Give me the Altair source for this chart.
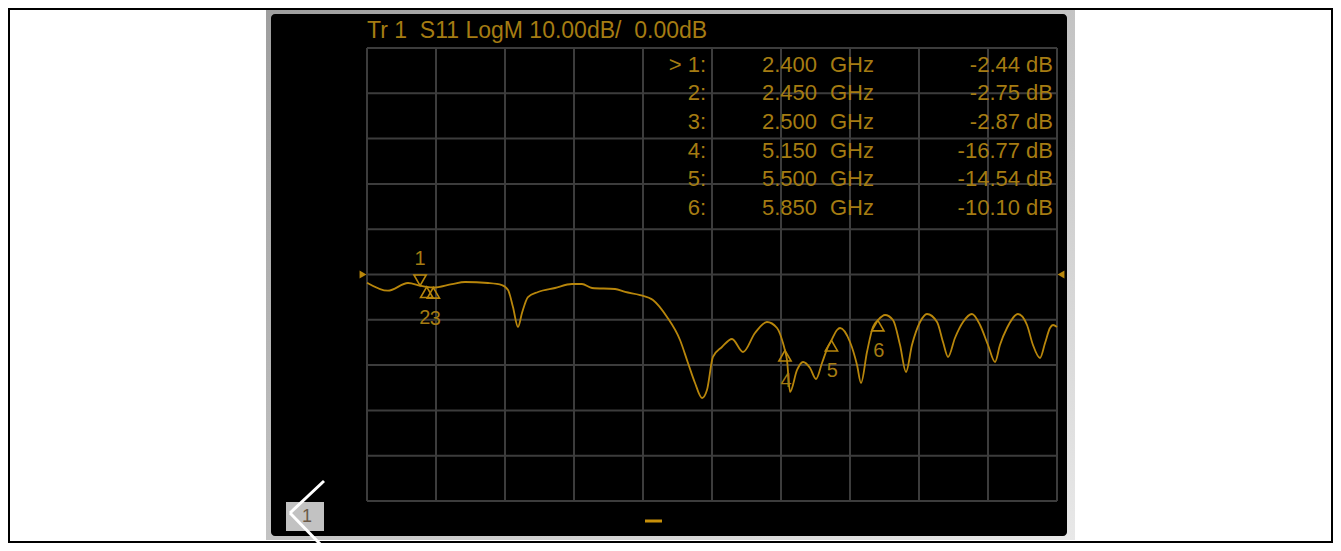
import altair as alt
import pandas as pd

# ---- trace data (S11, dB vs GHz) ----
freq_ghz = [2.000, 2.158, 2.309, 2.400, 2.450, 2.500, 2.641, 2.739, 2.912, 3.017,
            3.063, 3.100, 3.138, 3.168, 3.213, 3.289, 3.417, 3.545, 3.620, 3.696,
            3.869, 3.945, 4.058, 4.155, 4.261, 4.359, 4.419, 4.472, 4.525, 4.562,
            4.607, 4.675, 4.751, 4.834, 4.924, 5.014, 5.090, 5.135, 5.150, 5.165,
            5.188, 5.241, 5.286, 5.339, 5.384, 5.429, 5.474, 5.500, 5.542, 5.565,
            5.640, 5.693, 5.723, 5.768, 5.813, 5.850, 5.904, 5.964, 6.017, 6.062,
            6.107, 6.168, 6.220, 6.296, 6.341, 6.379, 6.431, 6.492, 6.559, 6.620,
            6.680, 6.733, 6.770, 6.823, 6.906, 6.974, 7.019, 7.072, 7.110, 7.147,
            7.170, 7.200]
s11_db = [-1.81, -3.58, -1.88, -2.44, -2.75, -2.87, -2.10, -1.66, -1.88, -2.32,
          -3.42, -7.18, -11.59, -8.50, -4.97, -3.86, -2.98, -2.10, -2.10, -2.98,
          -3.20, -3.86, -4.53, -5.63, -9.38, -14.46, -19.54, -23.95, -27.26, -25.50,
          -18.21, -16.00, -14.24, -17.11, -12.91, -10.49, -11.81, -15.12, -16.77, -18.87,
          -25.94, -21.08, -19.32, -20.64, -23.07, -19.54, -16.00, -14.54, -12.25, -11.81,
          -14.90, -19.98, -23.95, -17.11, -11.59, -10.10, -8.94, -10.05, -15.57, -21.52,
          -15.57, -10.49, -8.72, -10.49, -14.90, -18.21, -14.02, -10.49, -8.72, -11.15,
          -15.57, -19.32, -15.57, -11.81, -8.72, -11.15, -15.57, -18.43, -15.12, -11.81,
          -11.15, -11.59]

# ---- markers ----
marker_id = [1, 2, 3, 4, 5, 6]
marker_freq = [2.400, 2.450, 2.500, 5.150, 5.500, 5.850]
marker_db = [-2.44, -2.75, -2.87, -16.77, -14.54, -10.10]

# ---- grid ----
x_grid = [round(2.0 + 0.52 * i, 2) for i in range(11)]
y_grid = list(range(-50, 51, 10))
ref_level = [0.0]

title_text = "Tr 1\u00a0\u00a0S11 LogM 10.00dB/\u00a0\u00a00.00dB"

TRACE = "#b8860b"
TEXT = "#a57c12"
GRIDC = "#3c3c3c"
FONT = "Liberation Sans"

W, H = 690, 453
xs = alt.Scale(domain=[2.0, 7.2], nice=False, zero=False)
ys = alt.Scale(domain=[-50, 50], nice=False, zero=False)

trace_df = pd.DataFrame({"f": freq_ghz, "db": s11_db})
mk_df = pd.DataFrame({"id": marker_id, "f": marker_freq, "db": marker_db})
mk_df["lab"] = mk_df["id"].astype(str)
mk_df["rowlab"] = ["> 1:" if i == 1 else f"{i}:" for i in marker_id]
mk_df["fstr"] = mk_df["f"].map(lambda v: f"{v:.3f}")
mk_df["dbstr"] = mk_df["db"].map(lambda v: f"{v:.2f} dB")

one = pd.DataFrame({"k": [0]})

# ---- decorations (instrument frame) ----
border = alt.Chart(one).mark_rect(fill=None, stroke="black", strokeWidth=2).encode(
    x=alt.value(-358), x2=alt.value(965), y=alt.value(-39), y2=alt.value(494))
bezel = alt.Chart(one).mark_rect(
    color=alt.Gradient(gradient="linear",
                       stops=[alt.GradientStop(color="#9e9e9e", offset=0),
                              alt.GradientStop(color="#e8e8e8", offset=1)],
                       x1=0, y1=0, x2=1, y2=1)).encode(
    x=alt.value(-101), x2=alt.value(708), y=alt.value(-40), y2=alt.value(492))
screen = alt.Chart(one).mark_rect(color="black", cornerRadius=4).encode(
    x=alt.value(-96), x2=alt.value(700), y=alt.value(-34), y2=alt.value(488))

vgrid = alt.Chart(pd.DataFrame({"g": x_grid})).mark_rule(color=GRIDC, strokeWidth=2).encode(
    x=alt.X("g:Q", scale=xs, axis=None), y=alt.value(0), y2=alt.value(H))
hgrid = alt.Chart(pd.DataFrame({"g": y_grid})).mark_rule(color=GRIDC, strokeWidth=2).encode(
    y=alt.Y("g:Q", scale=ys, axis=None), x=alt.value(0), x2=alt.value(W))

trace = alt.Chart(trace_df).mark_line(color=TRACE, strokeWidth=1.8, interpolate="monotone").encode(
    x=alt.X("f:Q", scale=xs, axis=None), y=alt.Y("db:Q", scale=ys, axis=None))

ref_df = pd.DataFrame({"r": ref_level})
ref_l = alt.Chart(ref_df).mark_point(shape="triangle-right", filled=True, color=TRACE,
                                     size=64, opacity=1).encode(
    x=alt.value(-4), y=alt.Y("r:Q", scale=ys, axis=None))
ref_r = alt.Chart(ref_df).mark_point(shape="triangle-left", filled=True, color=TRACE,
                                     size=64, opacity=1).encode(
    x=alt.value(694), y=alt.Y("r:Q", scale=ys, axis=None))

mk_up = alt.Chart(mk_df).transform_filter("datum.id > 1").mark_point(
    shape="triangle-up", filled=False, color=TRACE, size=150, strokeWidth=1.6,
    yOffset=5.3, opacity=1).encode(
    x=alt.X("f:Q", scale=xs, axis=None), y=alt.Y("db:Q", scale=ys, axis=None))
mk_dn = alt.Chart(mk_df).transform_filter("datum.id == 1").mark_point(
    shape="triangle-down", filled=False, color=TRACE, size=150, strokeWidth=1.6,
    yOffset=-5.3, opacity=1).encode(
    x=alt.X("f:Q", scale=xs, axis=None), y=alt.Y("db:Q", scale=ys, axis=None))


def mlabel(cond, dx, dy):
    return alt.Chart(mk_df).transform_filter(cond).mark_text(
        color=TEXT, font=FONT, fontSize=20, dy=dy, dx=dx, baseline="middle").encode(
        x=alt.X("f:Q", scale=xs, axis=None), y=alt.Y("db:Q", scale=ys, axis=None), text="lab:N")


lab_1 = mlabel("datum.id == 1", 0, -27)
lab_2 = mlabel("datum.id == 2", -2, 31)
lab_3 = mlabel("datum.id == 3", 2, 31)
lab_r = mlabel("datum.id > 3", 1, 31)

# ---- marker table ----
tbase = alt.Chart(mk_df).transform_calculate(yb="23.7 + 28.66 * (datum.id - 1)")
TS = 22
t_id = tbase.mark_text(color=TEXT, font=FONT, fontSize=TS, align="right", baseline="alphabetic").encode(
    x=alt.value(339), y=alt.Y("yb:Q", scale=None), text="rowlab:N")
t_f = tbase.mark_text(color=TEXT, font=FONT, fontSize=TS, align="right", baseline="alphabetic").encode(
    x=alt.value(450), y=alt.Y("yb:Q", scale=None), text="fstr:N")
t_u = tbase.transform_calculate(u="'GHz'").mark_text(color=TEXT, font=FONT, fontSize=TS, align="left",
                                                      baseline="alphabetic").encode(
    x=alt.value(463), y=alt.Y("yb:Q", scale=None), text="u:N")
t_db = tbase.mark_text(color=TEXT, font=FONT, fontSize=TS, align="right", baseline="alphabetic").encode(
    x=alt.value(686), y=alt.Y("yb:Q", scale=None), text="dbstr:N")

title = alt.Chart(one).mark_text(color=TEXT, font=FONT, fontSize=23, align="left",
                                 baseline="alphabetic", text=title_text).encode(
    x=alt.value(0), y=alt.value(-9.7))

# ---- bottom-left softkey box and arrow, bottom dash ----
box = alt.Chart(one).mark_rect(color="#c2c2c2").encode(
    x=alt.value(-81), x2=alt.value(-43), y=alt.value(454), y2=alt.value(483))
box_t = alt.Chart(one).mark_text(color="#6b5a48", font=FONT, fontSize=18, align="center",
                                 baseline="middle", text="1").encode(
    x=alt.value(-60), y=alt.value(469))
arr1 = alt.Chart(one).mark_rule(color="white", strokeWidth=3).encode(
    x=alt.value(-43), y=alt.value(433), x2=alt.value(-77), y2=alt.value(465))
arr2 = alt.Chart(one).mark_rule(color="white", strokeWidth=3).encode(
    x=alt.value(-77), y=alt.value(465), x2=alt.value(-44), y2=alt.value(499))
dash = alt.Chart(one).mark_rule(color="#c8900a", strokeWidth=3).encode(
    x=alt.value(278), x2=alt.value(295), y=alt.value(473))

chart = alt.layer(
    bezel, screen, border, vgrid, hgrid, trace, ref_l, ref_r, mk_up, mk_dn,
    lab_1, lab_2, lab_3, lab_r,
    t_id, t_f, t_u, t_db, title, box, box_t, arr1, arr2, dash
).properties(
    width=W, height=H,
    padding={"left": 359, "top": 40, "right": 276, "bottom": 42},
    autosize=alt.AutoSizeParams(type="none"),
    background="white",
).configure_view(stroke=None, fill=None)

chart.save("out.html", embed_options={"renderer": "svg", "actions": False})
